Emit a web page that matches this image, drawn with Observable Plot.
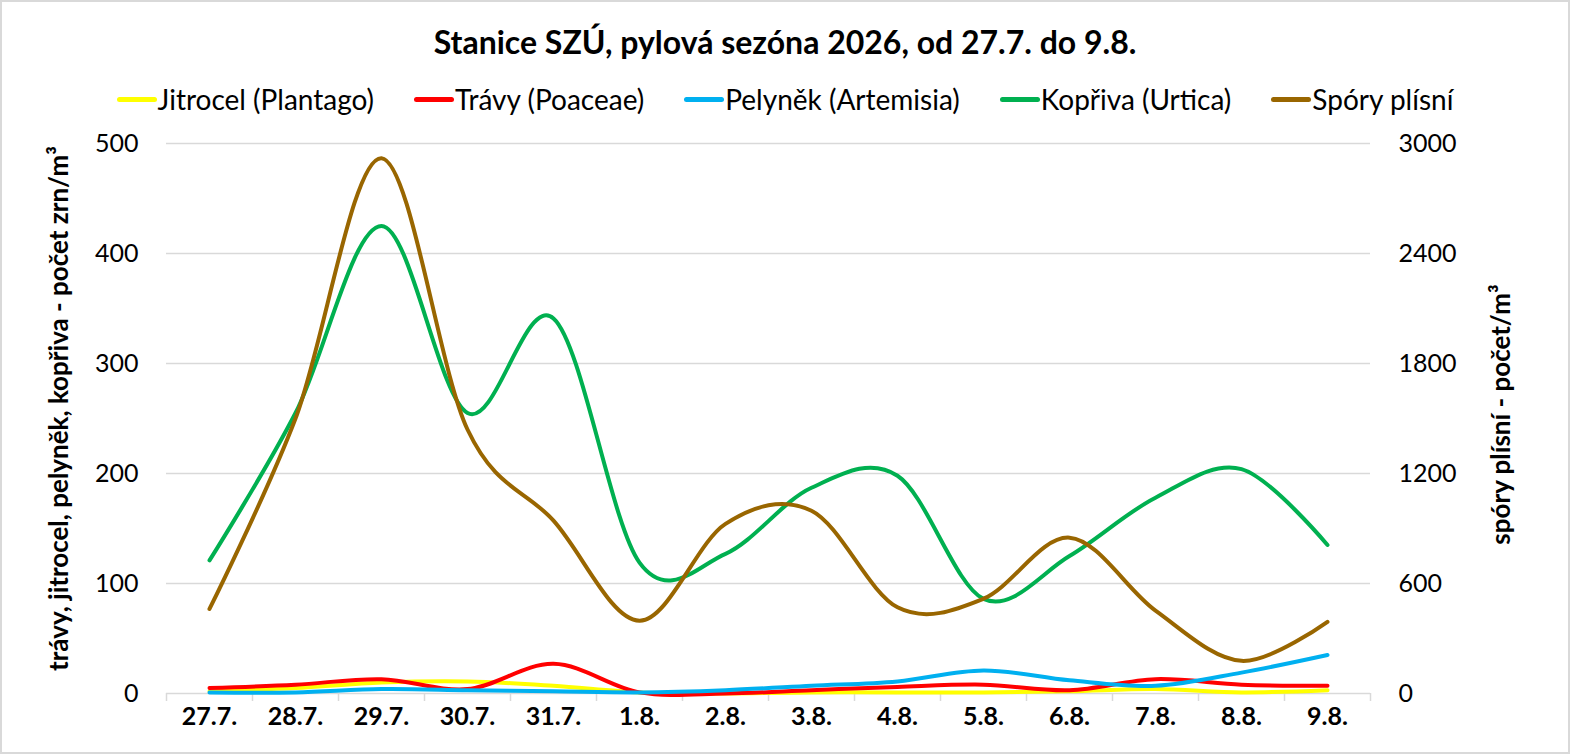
<!DOCTYPE html>
<html>
<head>
<meta charset="utf-8">
<script src="https://cdn.jsdelivr.net/npm/d3@7"></script>
<script src="https://cdn.jsdelivr.net/npm/@observablehq/plot@0.6"></script>
<style>
  html, body { margin: 0; padding: 0; background: #fff; }
  #chart { position: relative; width: 1570px; height: 754px; box-sizing: border-box;
           border: 2px solid #d9d9d9; font-family: Lato, "Open Sans", sans-serif; overflow: hidden; background:#fff; }
  #title { position: absolute; left: 0; right: 0; top: 20px; line-height: 40px; text-align: center;
           font-weight: bold; font-size: 32px; color: #000; }
  #legend { position: absolute; left: 0; right: 0; top: 79px; line-height: 36px; display: flex;
            justify-content: center; gap: 40px; font-size: 28px; color: #000; }
  #legend .item { display: flex; align-items: center; white-space: nowrap; }
  #legend .sw { width: 40px; height: 5px; border-radius: 3px; margin-right: 1px; }
  #plot { position: absolute; left: 0; top: 116px; }
</style>
</head>
<body>
<div id="chart">
  <div id="title"></div>
  <div id="legend"></div>
  <div id="plot"></div>
</div>
<script>
const titleText = "Stanice SZÚ, pylová sezóna 2026, od 27.7. do 9.8.";
const leftTitle = "trávy, jitrocel, pelyněk, kopřiva - počet zrn/m³";
const rightTitle = "spóry plísní - počet/m³";

const days = ["27.7.","28.7.","29.7.","30.7.","31.7.","1.8.","2.8.","3.8.","4.8.","5.8.","6.8.","7.8.","8.8.","9.8."];

const seriesNames = ["Jitrocel (Plantago)", "Trávy (Poaceae)", "Pelyněk (Artemisia)", "Kopřiva (Urtica)", "Spóry plísní"];
const seriesColors = ["#FFFF00", "#FF0000", "#00B0F0", "#00B050", "#996600"];

const jitrocel = [2, 5, 10, 11, 7, 1, 0, 1, 1, 1, 2, 4, 1, 3];
const travy    = [5, 8, 13, 4, 27, 1, 0, 3, 6, 8, 3, 13, 8, 7];
const pelynek  = [1, 1, 4, 3, 2, 1, 3, 7, 11, 21, 12, 7, 19, 35];
const kopriva  = [121, 255, 425, 255, 341, 119, 127, 187, 198, 86, 125, 178, 204, 135];
const spory    = [461, 1500, 2920, 1440, 943, 397, 925, 997, 470, 517, 850, 452, 178, 391];

const leftTicks  = [0, 100, 200, 300, 400, 500];
const rightTicks = [0, 600, 1200, 1800, 2400, 3000];

const ratio = rightTicks[rightTicks.length - 1] / leftTicks[leftTicks.length - 1];
const allSeries = [jitrocel, travy, pelynek, kopriva, spory];
const onRight = [false, false, false, false, true];

const rows = allSeries.flatMap((vals, s) => vals.map((v, i) => ({
  day: days[i], series: seriesNames[s], value: v, right: onRight[s]
})));

// HTML title & legend
document.getElementById("title").textContent = titleText;
const legend = document.getElementById("legend");
seriesNames.forEach((n, i) => {
  const it = document.createElement("div"); it.className = "item";
  const sw = document.createElement("div"); sw.className = "sw"; sw.style.background = seriesColors[i];
  const tx = document.createElement("span"); tx.textContent = n;
  it.appendChild(sw); it.appendChild(tx); legend.appendChild(it);
});

const W = 1566, H = 636, ML = 164, MR = 198, MT = 25, MB = 61;
const step = (W - ML - MR) / days.length;

const chart = Plot.plot({
  width: W, height: H,
  marginLeft: ML, marginRight: MR, marginTop: MT, marginBottom: MB,
  style: { fontFamily: "Lato, 'Open Sans', sans-serif", fontSize: "26px", color: "#000", background: "#fff", overflow: "visible" },
  x: { type: "point", domain: days, padding: 0.5 },
  y: { domain: [leftTicks[0], leftTicks[leftTicks.length - 1]] },
  color: { domain: seriesNames, range: seriesColors },
  marks: [
    Plot.gridY(leftTicks, { stroke: "#d9d9d9", strokeOpacity: 1, strokeWidth: 1.5 }),
    Plot.axisY(leftTicks, { anchor: "left", tickSize: 0, tickPadding: 28, label: null, fontSize: 25 }),
    Plot.axisY(leftTicks, { anchor: "right", tickSize: 0, tickPadding: 28, label: null, fontSize: 25, tickFormat: d => String(d * ratio) }),
    Plot.axisX({ tickSize: 0, tickPadding: 14, label: null, fontWeight: "bold", fontSize: 25 }),
    Plot.axisX(days, { tickSize: 8, tickFormat: () => "", label: null, dx: -step / 2, stroke: "#d9d9d9", strokeWidth: 1.5 }),
    Plot.axisX([days[days.length - 1]], { tickSize: 8, tickFormat: () => "", label: null, dx: step / 2, stroke: "#d9d9d9", strokeWidth: 1.5 }),
    Plot.line(rows, {
      x: "day", y: d => d.right ? d.value / ratio : d.value, z: "series", stroke: "series",
      strokeWidth: 4, curve: "cardinal", tension: 0, strokeLinecap: "round", strokeLinejoin: "round"
    }),
    Plot.text([leftTitle], { frameAnchor: "left", dx: -107, dy: -10, rotate: -90, textAnchor: "middle", fontWeight: "bold", fontSize: 26 }),
    Plot.text([rightTitle], { frameAnchor: "right", dx: 131, dy: -4, rotate: -90, textAnchor: "middle", fontWeight: "bold", fontSize: 26 })
  ]
});
document.getElementById("plot").appendChild(chart);
</script>
</body>
</html>
